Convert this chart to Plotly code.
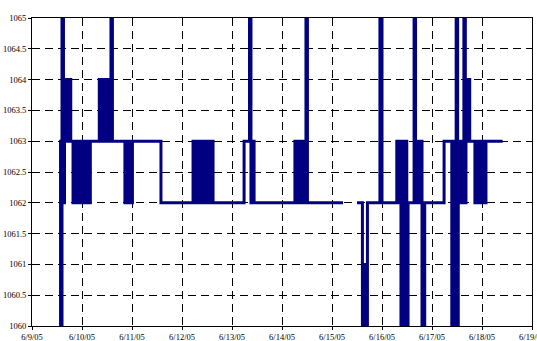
import pandas as pd
import plotly.graph_objects as go

# Hours after 6/9/05 00:00 at which the reading changes, and the reading (hPa)
seg1_hours = [13.0, 13.7, 14.4, 15.1, 15.6, 16.3, 17.0, 17.6, 18.2, 18.6,
              19.7, 20.4, 21.1, 21.8, 22.5, 23.2, 23.9, 24.6, 25.3, 26.0, 26.4, 27.3, 28.0,
              32.3, 33.0, 33.7, 34.4, 35.1, 35.8, 36.5, 37.4, 37.9, 38.6,
              44.6, 45.3, 46.0, 46.7, 47.4, 48.2,
              61.9,
              77.3, 78.0, 78.7, 79.4, 80.1, 80.8, 81.5, 82.2, 82.9, 83.6, 84.3, 85.0, 85.7, 86.4, 86.9,
              101.8, 104.4, 105.1, 105.5, 106.6,
              126.2, 126.9, 127.6, 128.3, 129.0, 129.7, 130.3, 130.8, 131.5, 132.2,
              149.3]
seg1_values = [1063, 1060, 1065, 1062, 1064, 1063, 1064, 1063, 1064, 1063,
               1062, 1063, 1062, 1063, 1062, 1063, 1062, 1063, 1062, 1063, 1063, 1062, 1063,
               1064, 1063, 1064, 1063, 1064, 1063, 1064, 1063, 1065, 1063,
               1062, 1063, 1062, 1063, 1062, 1063,
               1062,
               1063, 1062, 1063, 1062, 1063, 1062, 1063, 1062, 1063, 1062, 1063, 1062, 1063, 1063, 1062,
               1063, 1065, 1062, 1063, 1062,
               1063, 1062, 1063, 1062, 1063, 1062, 1063, 1062, 1065, 1062,
               1062]

seg2_hours = [156.0, 158.6, 159.8, 160.2, 161.0, 167.0, 168.0,
              175.1, 175.8, 176.5, 177.1, 177.8, 178.5, 179.2, 179.9, 180.5,
              183.4, 184.1, 184.7, 185.4, 186.0, 187.2, 188.5,
              197.8,
              201.5, 202.2, 202.9, 203.6, 204.3, 204.6, 205.3, 206.0, 206.7, 207.3, 208.0,
              208.3, 208.9, 209.5, 210.1, 210.7,
              212.6, 213.3, 214.0, 214.7, 215.4, 216.1, 216.8, 217.9,
              225.9]
seg2_values = [1062, 1060, 1061, 1060, 1062, 1065, 1062,
               1063, 1062, 1063, 1060, 1063, 1060, 1063, 1060, 1062,
               1065, 1062, 1063, 1062, 1063, 1060, 1062,
               1063,
               1060, 1063, 1060, 1065, 1060, 1063, 1062, 1063, 1062, 1065, 1062,
               1064, 1063, 1064, 1063, 1063,
               1062, 1063, 1062, 1063, 1062, 1063, 1062, 1063,
               1063]

tick_dates = ["2005-06-09", "2005-06-10", "2005-06-11", "2005-06-12", "2005-06-13", "2005-06-14",
              "2005-06-15", "2005-06-16", "2005-06-17", "2005-06-18", "2005-06-19"]
tick_labels = ["6/9/05", "6/10/05", "6/11/05", "6/12/05", "6/13/05", "6/14/05",
               "6/15/05", "6/16/05", "6/17/05", "6/18/05", "6/19/05"]
y_ticks = [1060, 1060.5, 1061, 1061.5, 1062, 1062.5, 1063, 1063.5, 1064, 1064.5, 1065]
y_labels = ["1060", "1060.5", "1061", "1061.5", "1062", "1062.5", "1063", "1063.5", "1064", "1064.5", "1065"]

start = pd.Timestamp("2005-06-09")
xs = [start + pd.Timedelta(hours=h) for h in seg1_hours] + [None] + \
     [start + pd.Timedelta(hours=h) for h in seg2_hours]
ys = seg1_values + [None] + seg2_values

fig = go.Figure()
fig.add_trace(go.Scatter(x=xs, y=ys, mode="lines", line=dict(color="#000080", width=3, shape="hv"),
                         connectgaps=False, showlegend=False))

font = dict(family="Liberation Serif, Times New Roman, serif", size=8.5, color="black")
fig.update_layout(
    width=537, height=341,
    margin=dict(l=32, r=5, t=18, b=15),
    paper_bgcolor="white", plot_bgcolor="white",
    font=font,
    xaxis=dict(type="date", range=["2005-06-09", "2005-06-19"],
               tickvals=tick_dates, ticktext=tick_labels, automargin=False,
               ticklabeloverflow="allow",
               showgrid=True, gridcolor="black", gridwidth=1, griddash="8px,5px",
               showline=True, linecolor="black", linewidth=1, mirror=True,
               ticks="outside", ticklen=3, tickcolor="black", tickfont=font, zeroline=False),
    yaxis=dict(range=[1060, 1065], tickvals=y_ticks, ticktext=y_labels, automargin=False,
               ticklabeloverflow="allow",
               showgrid=True, gridcolor="black", gridwidth=1, griddash="8px,5px",
               showline=True, linecolor="black", linewidth=1, mirror=True,
               ticks="outside", ticklen=3, tickcolor="black", tickfont=font, zeroline=False),
)
fig.write_html("out.html", config={"displayModeBar": False},
               post_script="document.body.style.margin='0';document.body.style.overflow='hidden';")
